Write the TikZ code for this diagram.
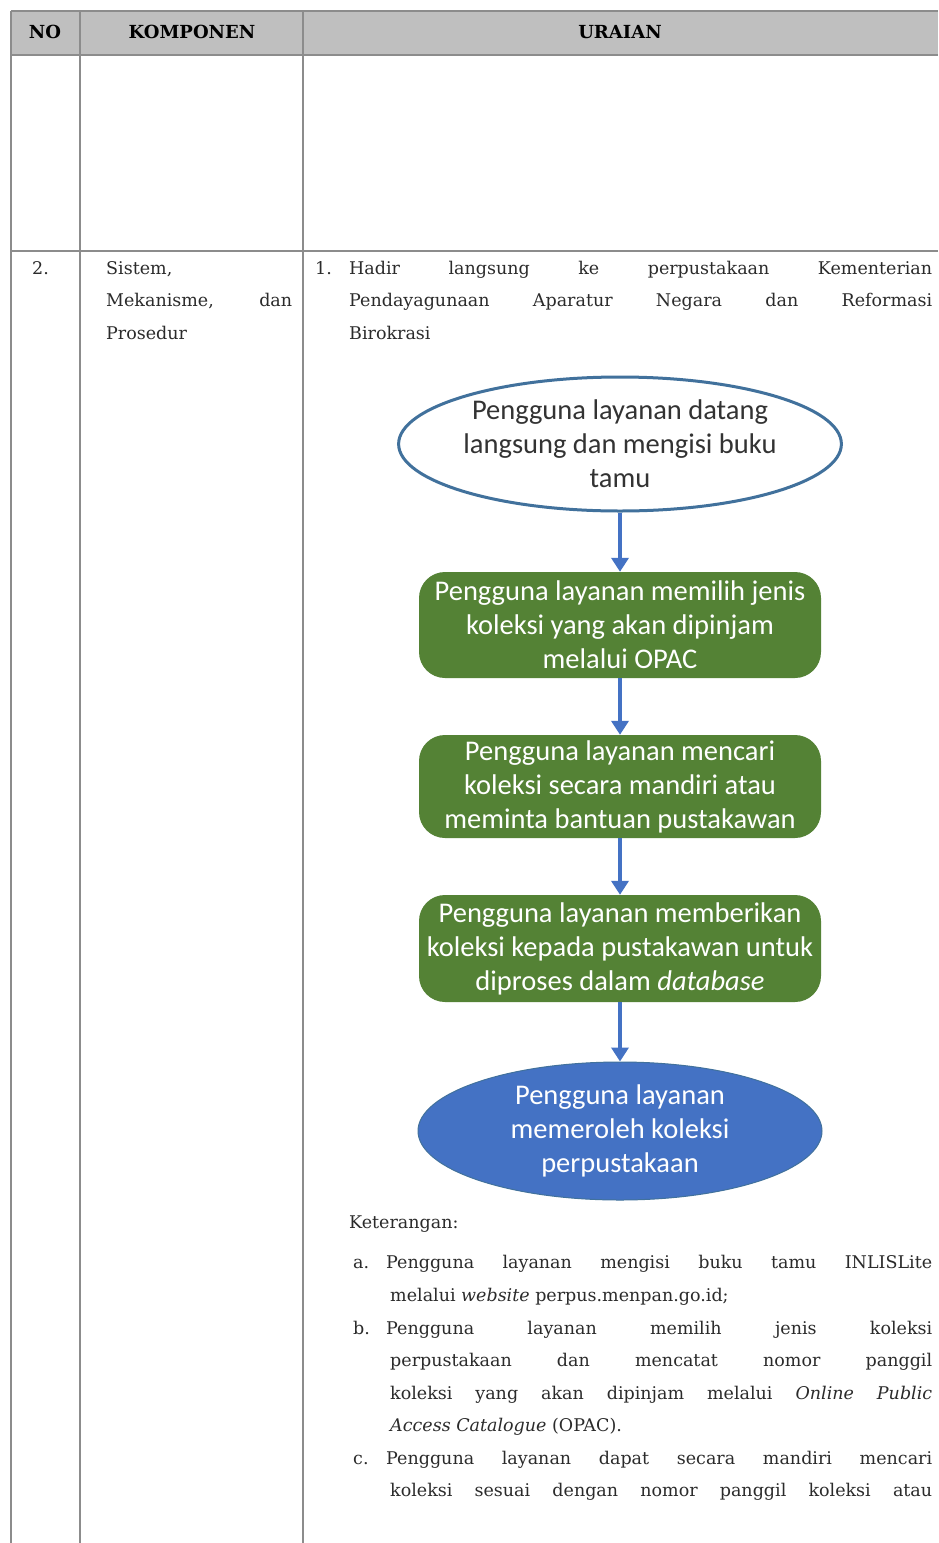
\documentclass[tikz,border=0pt]{standalone}
\usepackage{fontspec}
\setmainfont{DejaVu Serif}
\newfontfamily\carl{Carlito}
\usetikzlibrary{shapes.geometric,arrows.meta}
\definecolor{hdrgray}{HTML}{BFBFBF}
\definecolor{gridgray}{HTML}{8C8C8C}
\definecolor{txtgray}{HTML}{2B2B2B}
\definecolor{flowgreen}{HTML}{548235}
\definecolor{flowblue}{HTML}{4472C4}
\definecolor{outlblue}{HTML}{41719C}
\tikzset{
  gridline/.style={draw=gridgray, line width=1.6pt},
  tabtext/.style={anchor=base west, inner sep=0pt, text=txtgray, font=\fontsize{17.5}{20}\selectfont},
  hdrtext/.style={anchor=base, inner sep=0pt, text=black, font=\bfseries\fontsize{18}{22}\selectfont},
  flowtext/.style={align=center, font=\carl\fontsize{28.5}{34}\selectfont},
  startell/.style={ellipse, draw=outlblue, line width=3pt, fill=white, text=black!80, flowtext, inner sep=0pt},
  greenbox/.style={rectangle, rounded corners=26pt, fill=flowgreen, text=white, flowtext, inner sep=0pt, minimum width=402pt},
  endell/.style={ellipse, fill=flowblue, draw=outlblue, line width=1pt, text=white, flowtext, inner sep=0pt},
  flowarrow/.style={draw=flowblue, line width=3.5pt, -{Triangle[length=14pt,width=17pt]}}
}
\newcommand{\jline}[2]{\makebox[#1pt][s]{#2}}
\begin{document}
\begin{tikzpicture}[x=1pt,y=-1pt]
\useasboundingbox (0,0) rectangle (938,1543);
\fill[white] (0,0) rectangle (938,1543);
% header
\fill[hdrgray] (11,11) rectangle (938,55);
\draw[gridline] (11,11) -- (938,11);
\draw[gridline] (11,55) -- (938,55);
\draw[gridline] (11,251) -- (938,251);
\draw[gridline] (11,11) -- (11,1543);
\draw[gridline] (80,11) -- (80,1543);
\draw[gridline] (303,11) -- (303,1543);
\node[hdrtext] (hno) at (45,38) {NO};
\node[hdrtext] (hkom) at (192,38) {KOMPONEN};
\node[hdrtext] (hura) at (620,38) {URAIAN};
% row 2
\node[tabtext] (no2) at (32,274) {2.};
\node[tabtext] (k1) at (106,274) {Sistem,};
\node[tabtext] (k2) at (106,306) {\jline{186}{Mekanisme, dan}};
\node[tabtext] (k3) at (106,339) {Prosedur};
\node[tabtext] (u0) at (315,274) {1.};
\node[tabtext] (u1) at (349,274) {\jline{583}{Hadir langsung ke perpustakaan Kementerian}};
\node[tabtext] (u2) at (349,306) {\jline{583}{Pendayagunaan Aparatur Negara dan Reformasi}};
\node[tabtext] (u3) at (349,339) {Birokrasi};
% flowchart
\node[startell, minimum width=436pt, minimum height=134pt] (s1) at (620,444) {Pengguna layanan datang\\langsung dan mengisi buku\\tamu};
\node[greenbox, minimum height=106pt] (g1) at (620,625) {Pengguna layanan memilih jenis\\koleksi yang akan dipinjam\\melalui OPAC};
\node[greenbox, minimum height=103pt] (g2) at (620,786.5) {Pengguna layanan mencari\\koleksi secara mandiri atau\\meminta bantuan pustakawan};
\node[greenbox, minimum height=107pt] (g3) at (620,948.5) {Pengguna layanan memberikan\\koleksi kepada pustakawan untuk\\diproses dalam \textit{database}};
\node[endell, minimum width=404pt, minimum height=138pt] (e2) at (620,1131) {Pengguna layanan\\memeroleh koleksi\\perpustakaan};
\draw[flowarrow] (s1.south) -- (g1.north);
\draw[flowarrow] (g1.south) -- (g2.north);
\draw[flowarrow] (g2.south) -- (g3.north);
\draw[flowarrow] (g3.south) -- (e2.north);
% keterangan
\node[tabtext] (ket) at (349,1228) {Keterangan:};
\node[tabtext] (la) at (353,1268) {a.};
\node[tabtext] (a1) at (386,1268) {\jline{546}{Pengguna layanan mengisi buku tamu INLISLite}};
\node[tabtext] (a2) at (390,1301) {melalui \textit{website} perpus.menpan.go.id;};
\node[tabtext] (lb) at (353,1334) {b.};
\node[tabtext] (b1) at (386,1334) {\jline{546}{Pengguna layanan memilih jenis koleksi}};
\node[tabtext] (b2) at (390,1366) {\jline{542}{perpustakaan dan mencatat nomor panggil}};
\node[tabtext] (b3) at (390,1399) {\jline{542}{koleksi yang akan dipinjam melalui \textit{Online Public}}};
\node[tabtext] (b4) at (390,1431) {\textit{Access Catalogue} (OPAC).};
\node[tabtext] (lc) at (353,1464) {c.};
\node[tabtext] (c1) at (386,1464) {\jline{546}{Pengguna layanan dapat secara mandiri mencari}};
\node[tabtext] (c2) at (390,1496) {\jline{542}{koleksi sesuai dengan nomor panggil koleksi atau}};
\end{tikzpicture}
\end{document}
